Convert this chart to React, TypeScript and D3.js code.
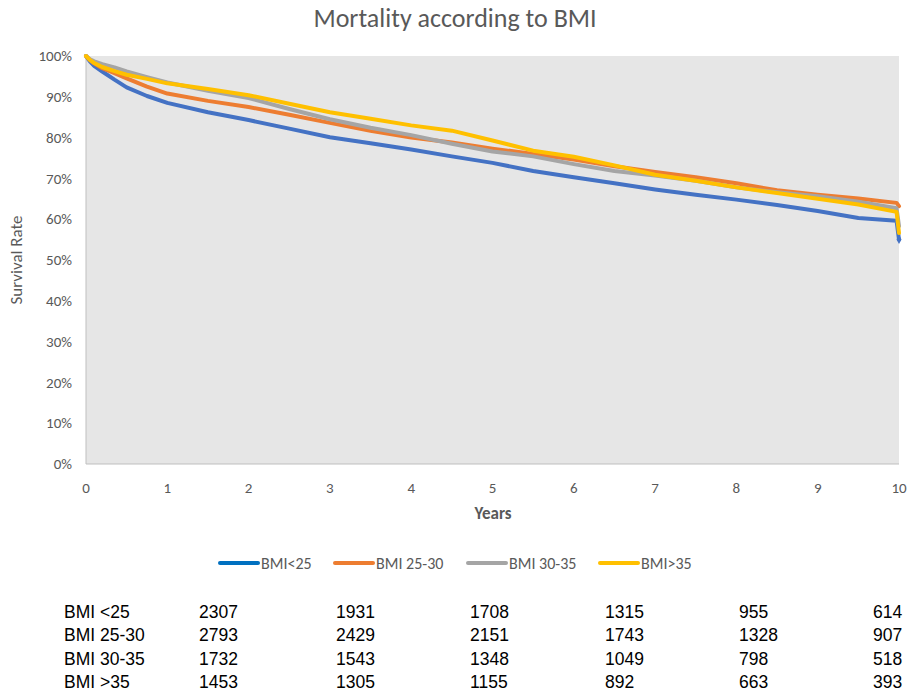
import { useEffect, useRef } from "react"
import * as d3 from "d3"

// follow-up time points (years) at which the curves were read
const years = [0, 0.05, 0.1, 0.2, 0.35, 0.5, 0.75, 1, 1.5, 2, 2.5, 3, 3.5, 4, 4.5, 5, 5.5, 6, 6.5, 7, 7.5, 8, 8.5, 9, 9.5, 9.97, 10]

// survival rate in %, one array per BMI group
const bmiUnder25 = [100, 98.6, 97.6, 96.2, 94.2, 92.3, 90.2, 88.5, 86.2, 84.3, 82.2, 80.1, 78.6, 77.1, 75.4, 73.8, 71.8, 70.3, 68.8, 67.3, 66, 64.8, 63.5, 62, 60.3, 59.6, 55]
const bmi25to30 = [100, 99, 98.2, 97, 95.8, 94.5, 92.5, 90.8, 89, 87.5, 85.6, 83.6, 81.7, 80, 78.8, 77.3, 76, 74.6, 73, 71.6, 70.3, 68.8, 67.1, 66, 65.1, 64, 63.2]
const bmi30to35 = [100, 99.2, 98.7, 98, 97.2, 96.2, 94.8, 93.5, 91.5, 89.7, 87, 84.5, 82.4, 80.6, 78.5, 76.6, 75.4, 73.5, 71.8, 70.7, 69.4, 67.8, 66.6, 65.6, 64.3, 62.7, 58.3]
const bmiOver35 = [100, 99, 98.3, 97.3, 96.3, 95.4, 94.4, 93.3, 91.9, 90.4, 88.3, 86.2, 84.6, 83, 81.7, 79.3, 76.8, 75.3, 73.2, 70.9, 69.4, 67.8, 66.4, 65, 63.6, 61.8, 56.6]

const seriesNames = ["BMI<25", "BMI 25-30", "BMI 30-35", "BMI>35"]
const seriesColors = ["#4472C4", "#ED7D31", "#A5A5A5", "#FFC000"]
const legendColors = ["#0070C0", "#ED7D31", "#A5A5A5", "#FFC000"]

const xTicks = [0, 1, 2, 3, 4, 5, 6, 7, 8, 9, 10]
const yTicks = [0, 10, 20, 30, 40, 50, 60, 70, 80, 90, 100]

// number at risk table
const riskLabels = ["BMI <25", "BMI 25-30", "BMI 30-35", "BMI >35"]
const riskUnder25 = [2307, 1931, 1708, 1315, 955, 614]
const risk25to30 = [2793, 2429, 2151, 1743, 1328, 907]
const risk30to35 = [1732, 1543, 1348, 1049, 798, 518]
const riskOver35 = [1453, 1305, 1155, 892, 663, 393]

const W = 922
const H = 694
const FONT = "Carlito, Lato, 'Open Sans', sans-serif"
const TABLE_FONT = "'Liberation Sans', Arial, sans-serif"

export default function App() {
  const svgRef = useRef<SVGSVGElement>(null)

  useEffect(() => {
    if (!svgRef.current) return
    const svg = d3.select(svgRef.current)
    svg.selectAll("*").remove()

    const left = 86
    const right = 899
    const top = 56
    const bottom = 464

    const x = d3.scaleLinear().domain([0, 10]).range([left, right])
    const y = d3.scaleLinear().domain([0, 100]).range([bottom, top])

    svg.append("rect").attr("width", W).attr("height", H).attr("fill", "#ffffff")

    // title
    svg.append("text")
      .attr("x", 455)
      .attr("y", 27)
      .attr("text-anchor", "middle")
      .attr("font-family", FONT)
      .attr("font-size", "26px")
      .attr("fill", "#595959")
      .text("Mortality according to BMI")

    // plot area
    svg.append("rect")
      .attr("x", left)
      .attr("y", top)
      .attr("width", right - left)
      .attr("height", bottom - top)
      .attr("fill", "#E6E6E6")

    // axes
    svg.append("line")
      .attr("x1", left).attr("x2", left)
      .attr("y1", top).attr("y2", bottom)
      .attr("stroke", "#BFBFBF")
    svg.append("line")
      .attr("x1", left).attr("x2", right)
      .attr("y1", bottom).attr("y2", bottom)
      .attr("stroke", "#BFBFBF")

    svg.selectAll(".ytick")
      .data(yTicks)
      .join("text")
      .attr("class", "ytick")
      .attr("x", 72)
      .attr("y", (d) => y(d))
      .attr("dy", "0.35em")
      .attr("text-anchor", "end")
      .attr("font-family", FONT)
      .attr("font-size", "15px")
      .attr("fill", "#595959")
      .text((d) => `${d}%`)

    svg.selectAll(".xtick")
      .data(xTicks)
      .join("text")
      .attr("class", "xtick")
      .attr("x", (d) => x(d))
      .attr("y", 493)
      .attr("text-anchor", "middle")
      .attr("font-family", FONT)
      .attr("font-size", "15px")
      .attr("fill", "#595959")
      .text((d) => d)

    svg.append("text")
      .attr("transform", `translate(22,${(top + bottom) / 2}) rotate(-90)`)
      .attr("text-anchor", "middle")
      .attr("font-family", FONT)
      .attr("font-size", "17px")
      .attr("fill", "#595959")
      .text("Survival Rate")

    svg.append("text")
      .attr("x", 493)
      .attr("y", 519)
      .attr("text-anchor", "middle")
      .attr("font-family", FONT)
      .attr("font-size", "17px")
      .attr("font-weight", 600)
      .attr("fill", "#595959")
      .text("Years")

    // survival curves
    const allSeries = [bmiUnder25, bmi25to30, bmi30to35, bmiOver35]
    const line = d3.line<number>()
      .x((_, i) => x(years[i]))
      .y((d) => y(d))

    allSeries.forEach((vals, k) => {
      svg.append("path")
        .datum(vals)
        .attr("d", line)
        .attr("fill", "none")
        .attr("stroke", seriesColors[k])
        .attr("stroke-width", 4)
        .attr("stroke-linejoin", "round")
        .attr("stroke-linecap", "round")
    })

    // end marker of the first series
    const last = bmiUnder25.length - 1
    svg.append("path")
      .attr("d", d3.symbol(d3.symbolDiamond, 22)())
      .attr("transform", `translate(${x(years[last])},${y(bmiUnder25[last])})`)
      .attr("fill", seriesColors[0])

    // legend
    const legendX = [220, 335, 468, 600]
    const lg = svg.selectAll(".legend")
      .data(seriesNames)
      .join("g")
      .attr("class", "legend")
      .attr("transform", (_, i) => `translate(${legendX[i]},563)`)
    lg.append("line")
      .attr("x1", 0).attr("x2", 38)
      .attr("stroke", (_, i) => legendColors[i])
      .attr("stroke-width", 4)
      .attr("stroke-linecap", "round")
    lg.append("text")
      .attr("x", 41)
      .attr("dy", "0.35em")
      .attr("font-family", FONT)
      .attr("font-size", "16px")
      .attr("fill", "#595959")
      .text((d) => d)

    // number at risk table
    const riskRows = [riskUnder25, risk25to30, risk30to35, riskOver35]
    const colX = [199, 336, 470, 605, 739, 873]
    const rowY = d3.scaleLinear().domain([0, 3]).range([618, 688])
    riskRows.forEach((row, r) => {
      svg.append("text")
        .attr("x", 64)
        .attr("y", rowY(r))
        .attr("font-family", TABLE_FONT)
        .attr("font-size", "17.5px")
        .attr("fill", "#000000")
        .text(riskLabels[r])
      row.forEach((v, c) => {
        svg.append("text")
          .attr("x", colX[c])
          .attr("y", rowY(r))
          .attr("font-family", TABLE_FONT)
          .attr("font-size", "17.5px")
          .attr("fill", "#000000")
          .text(v)
      })
    })
  }, [])

  return (
    <svg
      ref={svgRef}
      width={W}
      height={H}
      style={{ display: "block", position: "absolute", left: 0, top: 0 }}
    />
  )
}
